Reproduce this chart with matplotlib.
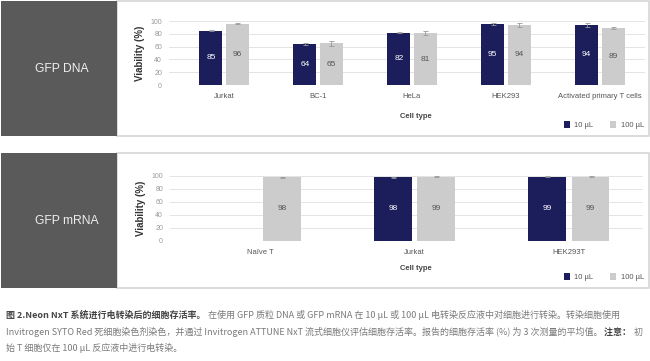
import numpy as np
import matplotlib
matplotlib.use("Agg")
import matplotlib.pyplot as plt
from matplotlib.patches import Rectangle
from matplotlib.text import Annotation

# ── data ──────────────────────────────────────────────────────────────────────
dna_cells = ["Jurkat", "BC-1", "HeLa", "HEK293", "Activated primary T cells"]
dna_10 = [85, 64, 82, 95, 94]
dna_100 = [96, 65, 81, 94, 89]
dna_10_err = [1, 1.5, 1, 2, 3.5]
dna_100_err = [1, 4, 3, 3, 2]

rna_cells = ["Naïve T", "Jurkat", "HEK293T"]
rna_10 = [np.nan, 98, 99]
rna_100 = [98, 99, 99]
rna_10_err = [0, 1, 0.5]
rna_100_err = [1, 0.5, 0.5]

series_names = ["10 µL", "100 µL"]

DARK = "#1c1d5b"
LIGHT = "#cccccc"
BOX = "#5a5a5a"
W, H = 650, 361
CHART_FONT = ["Liberation Sans", "DejaVu Sans"]
CJK_FONT = ["Noto Sans CJK SC", "DejaVu Sans"]

fig = plt.figure(figsize=(W / 100, H / 100), dpi=100)
fig.patch.set_facecolor("white")


def fx(px):
    return px / W


def fy(py):
    return 1 - py / H


def panel(top, bottom, label, label_x, cells, v10, v100, e10, e100, ax_box, ctype_x):
    # white frame and dark label box (behind the axes)
    fig.patches.append(Rectangle((fx(117), fy(bottom)), fx(532), (bottom - top) / H,
                                 transform=fig.transFigure, facecolor="white",
                                 edgecolor="#d6d6d6", linewidth=1.2, zorder=-10))
    fig.patches.append(Rectangle((fx(1), fy(bottom)), fx(116), (bottom - top) / H,
                                 transform=fig.transFigure, facecolor=BOX,
                                 edgecolor="none", zorder=-9))
    fig.text(fx(label_x), fy((top + bottom) / 2 + 1), label, color="#eeeeee",
             fontsize=8.7, ha="left", va="center", family=CHART_FONT)

    left, right, y0, y100 = ax_box
    ax = fig.add_axes([fx(left), fy(y0), (right - left) / W, (y0 - y100) / H])
    x = np.arange(len(cells))
    bw, off = 0.245, 0.14
    b1 = ax.bar(x - off, v10, bw, color=DARK, label=series_names[0], zorder=2)
    b2 = ax.bar(x + off, v100, bw, color=LIGHT, label=series_names[1], zorder=2)
    ax.errorbar(x - off, v10, yerr=e10, fmt="none", ecolor="#999999",
                elinewidth=0.6, capsize=1.8, capthick=0.6, zorder=3, clip_on=False)
    ax.errorbar(x + off, v100, yerr=e100, fmt="none", ecolor="#999999",
                elinewidth=0.6, capsize=1.8, capthick=0.6, zorder=3, clip_on=False)
    for xi, v in zip(x - off, v10):
        if not np.isnan(v):
            ax.text(xi, v / 2, f"{v:.0f}", color="white", ha="center", va="center",
                    fontsize=6, family=CHART_FONT, zorder=4)
    for xi, v in zip(x + off, v100):
        if not np.isnan(v):
            ax.text(xi, v / 2, f"{v:.0f}", color="#555555", ha="center", va="center",
                    fontsize=6, family=CHART_FONT, zorder=4)

    ax.set_xlim(-0.585, len(cells) - 1 + 0.48)
    ax.set_ylim(0, 100)
    ax.set_yticks(range(0, 101, 20))
    ax.set_xticks(x)
    ax.set_xticklabels(cells, fontsize=5.5, color="#555555", family=CHART_FONT)
    for t in ax.get_yticklabels():
        t.set_fontsize(5)
        t.set_color("#999999")
        t.set_family(CHART_FONT)
    ax.tick_params(length=0, pad=5)
    ax.tick_params(axis="x", pad=6)
    ax.grid(axis="y", color="#e4e4e4", linewidth=0.7, zorder=0)
    for s in ax.spines.values():
        s.set_visible(False)
    ax.set_facecolor("none")
    ax.set_ylabel("Viability (%)", fontsize=7, fontweight="bold", color="#333333",
                  family=CHART_FONT, labelpad=4)

    fig.text(fx(ctype_x), fy(bottom - 19), "Cell type", fontsize=5.5,
             fontweight="bold", color="#444444", ha="center", va="center",
             family=CHART_FONT)
    ax.legend(handles=[b1, b2], loc="center right", ncol=2, frameon=False,
              bbox_to_anchor=(fx(647), fy(bottom - 11)), bbox_transform=fig.transFigure,
              prop={"family": CHART_FONT, "size": 5.5}, labelcolor="#555555",
              handlelength=0.75, handleheight=1.1, handletextpad=0.6,
              columnspacing=2.2, borderaxespad=0)
    return ax


panel(1, 136, "GFP DNA", 35, dna_cells, dna_10, dna_100, dna_10_err, dna_100_err,
      (169, 645, 85, 21), 416)
panel(153, 288, "GFP mRNA", 35, rna_cells, rna_10, rna_100, rna_10_err, rna_100_err,
      (170, 643, 240.5, 176), 416)

# ── caption with mixed bold / regular runs ────────────────────────────────────
caption = [
    [("图 2.Neon NxT 系统进行电转染后的细胞存活率。", True),
     (" 在使用 GFP 质粒 DNA 或 GFP mRNA 在 10 µL 或 100 µL 电转染反应液中对细胞进行转染。转染细胞使用", False)],
    [("Invitrogen SYTO Red 死细胞染色剂染色，并通过 Invitrogen ATTUNE NxT 流式细胞仪评估细胞存活率。报告的细胞存活率 (%) 为 3 次测量的平均值。", False),
     (" 注意：", True), (" 初", False)],
    [("始 T 细胞仅在 100 µL 反应液中进行电转染。", False)],
]
line_y = [315, 332, 348]
for runs, ly in zip(caption, line_y):
    last = None
    for txt, bold in runs:
        kw = dict(fontsize=6.5, family=CJK_FONT, va="center",
                  color="#444444" if bold else "#7a7a7a",
                  fontweight="bold" if bold else "normal")
        if last is None:
            last = fig.text(fx(6), fy(ly), txt, ha="left", **kw)
        else:
            last = fig.add_artist(Annotation(txt, xy=(1, 0.5), xycoords=last,
                                             ha="left", annotation_clip=False, **kw))

fig.savefig("out.png", dpi=100, facecolor="white")
